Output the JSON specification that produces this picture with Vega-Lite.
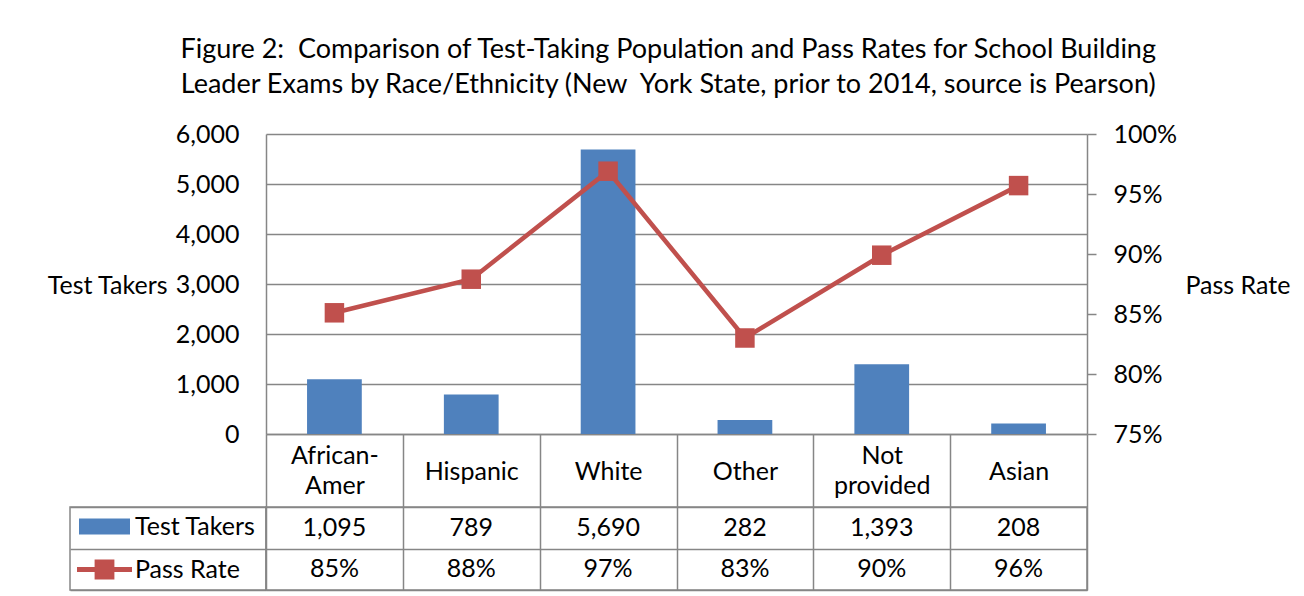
{
  "$schema": "https://vega.github.io/schema/vega-lite/v6.json",
  "background": "white",
  "padding": {"left": 46, "top": 36, "right": 4, "bottom": 2},
  "title": {
    "text": ["Figure 2:\u00a0 Comparison of Test-Taking Population and Pass Rates for School Building", "Leader Exams by Race/Ethnicity (New\u00a0 York State, prior to 2014, source is Pearson)"],
    "fontSize": 27, "fontWeight": "normal", "color": "black", "lineHeight": 35, "anchor": "middle", "offset": 23
  },
  "config": {"font": "Lato", "view": {"stroke": null}},
  "datasets": {
    "main": [
      {"race": "African-Amer", "takers": 1095, "rate": 0.851},
      {"race": "Hispanic", "takers": 789, "rate": 0.879},
      {"race": "White", "takers": 5690, "rate": 0.969},
      {"race": "Other", "takers": 282, "rate": 0.830},
      {"race": "Not provided", "takers": 1393, "rate": 0.899},
      {"race": "Asian", "takers": 208, "rate": 0.957}
    ],
    "rows": [{"row": "Test Takers"}, {"row": "Pass Rate"}]
  },
  "columns": 2,
  "spacing": {"row": 73, "column": 0},
  "bounds": "flush",
  "concat": [
    {
      "width": 196, "height": 300,
      "data": {"values": [{}]},
      "mark": {"type": "text"},
      "encoding": {"text": {"value": ""}}
    },
    {
      "width": 821, "height": 300,
      "data": {"name": "main"},
      "encoding": {
        "x": {"field": "race", "type": "nominal", "sort": null,
          "scale": {"paddingInner": 0, "paddingOuter": 0},
          "axis": {"title": null, "orient": "bottom", "tickBand": "extent", "ticks": true, "tickSize": 73,
            "tickColor": "#868686", "tickWidth": 1.5, "domainColor": "#868686", "domainWidth": 1.5,
            "labelAngle": 0, "labelFontSize": 25, "labelColor": "black",
            "labelBaseline": {"condition": {"test": "datum.value == 'African-Amer' || datum.value == 'Not provided'", "value": "line-bottom"}, "value": "middle"},
            "labelPadding": -36, "labelLineHeight": 30, "labelLimit": 0, "grid": false,
            "labelExpr": "datum.label == 'African-Amer' ? ['African-', 'Amer'] : datum.label == 'Not provided' ? ['Not', 'provided'] : datum.label"}
        }
      },
      "layer": [
        {
          "mark": {"type": "bar", "width": {"band": 0.4}},
          "encoding": {
            "y": {"field": "takers", "type": "quantitative", "scale": {"domain": [0, 6000], "nice": false},
              "axis": {"title": "Test Takers", "orient": "left", "values": [0, 1000, 2000, 3000, 4000, 5000, 6000], "format": ",.0f",
                "grid": true, "gridColor": "#868686", "gridWidth": 1.5, "ticks": false,
                "domain": true, "domainColor": "#868686", "domainWidth": 1.5,
                "labelPadding": 27, "labelFontSize": 25, "labelColor": "black",
                "titleAngle": 0, "titleAlign": "right", "titleBaseline": "middle", "titleX": -99, "titleY": 151,
                "titleFontSize": 25, "titleFontWeight": "normal", "titleColor": "black"}},
            "color": {"datum": "Test Takers", "type": "nominal", "scale": {"range": ["#4F81BD"]},
              "legend": {"title": null, "orient": "none", "legendX": -187, "legendY": 367, "padding": 0,
                "symbolType": "M-1,-0.31H1V0.31H-1Z", "symbolSize": 2601, "symbolStrokeWidth": 0,
                "labelFontSize": 25, "labelColor": "black", "labelOffset": 5}}
          }
        },
        {
          "mark": {"type": "line", "strokeWidth": 4.5, "point": {"shape": "square", "size": 380, "filled": true, "opacity": 1}},
          "encoding": {
            "y": {"field": "rate", "type": "quantitative", "scale": {"domain": [0.75, 1], "zero": false, "nice": false},
              "axis": {"title": "Pass Rate", "orient": "right", "values": [0.75, 0.8, 0.85, 0.9, 0.95, 1], "format": ".0%",
                "grid": false, "ticks": true, "tickSize": 9, "tickColor": "#868686", "tickWidth": 1.5,
                "domain": true, "domainColor": "#868686", "domainWidth": 1.5,
                "labelPadding": 17, "labelFontSize": 25, "labelColor": "black",
                "titleAngle": 0, "titleAlign": "left", "titleBaseline": "middle", "titleX": 98, "titleY": 151,
                "titleFontSize": 25, "titleFontWeight": "normal", "titleColor": "black"}},
            "color": {"datum": "Pass Rate", "type": "nominal", "scale": {"range": ["#C0504D"]},
              "legend": {"title": null, "orient": "none", "legendX": -189, "legendY": 408, "padding": 0,
                "symbolType": "M-1,-0.09H1V0.09H-1Z M-0.36,-0.36H0.36V0.36H-0.36Z", "symbolSize": 3025,
                "symbolStrokeWidth": 0, "symbolFillColor": "#C0504D",
                "labelFontSize": 25, "labelColor": "black", "labelOffset": 3,
                "encode": {"symbols": {"update": {"fill": {"value": "#C0504D"}, "strokeWidth": {"value": 0}, "opacity": {"value": 1}}}}}}
          }
        }
      ],
      "resolve": {"scale": {"y": "independent", "color": "independent"}}
    },
    {
      "width": 196, "height": 83,
      "data": {"name": "rows"},
      "mark": {"type": "text"},
      "encoding": {
        "y": {"field": "row", "type": "nominal", "sort": null, "scale": {"paddingInner": 0, "paddingOuter": 0},
          "axis": {"title": null, "labels": false, "ticks": false, "domain": false, "grid": true, "tickBand": "extent",
            "gridColor": "#868686", "gridWidth": 1.5}},
        "text": {"value": ""}
      },
      "view": {"stroke": "#868686", "strokeWidth": 1.5}
    },
    {
      "width": 821, "height": 83,
      "data": {"name": "main"},
      "encoding": {
        "x": {"field": "race", "type": "nominal", "sort": null, "scale": {"paddingInner": 0, "paddingOuter": 0},
          "axis": {"title": null, "orient": "top", "labels": false, "ticks": false, "domain": false, "grid": true,
            "tickBand": "extent", "gridColor": "#868686", "gridWidth": 1.5}}
      },
      "layer": [
        {
          "mark": {"type": "text", "fontSize": 25, "color": "black"},
          "encoding": {
            "y": {"datum": "Test Takers", "type": "nominal",
              "scale": {"domain": ["Test Takers", "Pass Rate"], "paddingInner": 0, "paddingOuter": 0},
              "axis": {"title": null, "labels": false, "ticks": false, "domain": false, "grid": true, "tickBand": "extent",
                "gridColor": "#868686", "gridWidth": 1.5}},
            "text": {"field": "takers", "type": "quantitative", "format": ","}
          }
        },
        {
          "mark": {"type": "text", "fontSize": 25, "color": "black"},
          "encoding": {
            "y": {"datum": "Pass Rate", "type": "nominal"},
            "text": {"field": "rate", "type": "quantitative", "format": ".0%"}
          }
        }
      ],
      "view": {"stroke": "#868686", "strokeWidth": 1.5}
    }
  ]
}
